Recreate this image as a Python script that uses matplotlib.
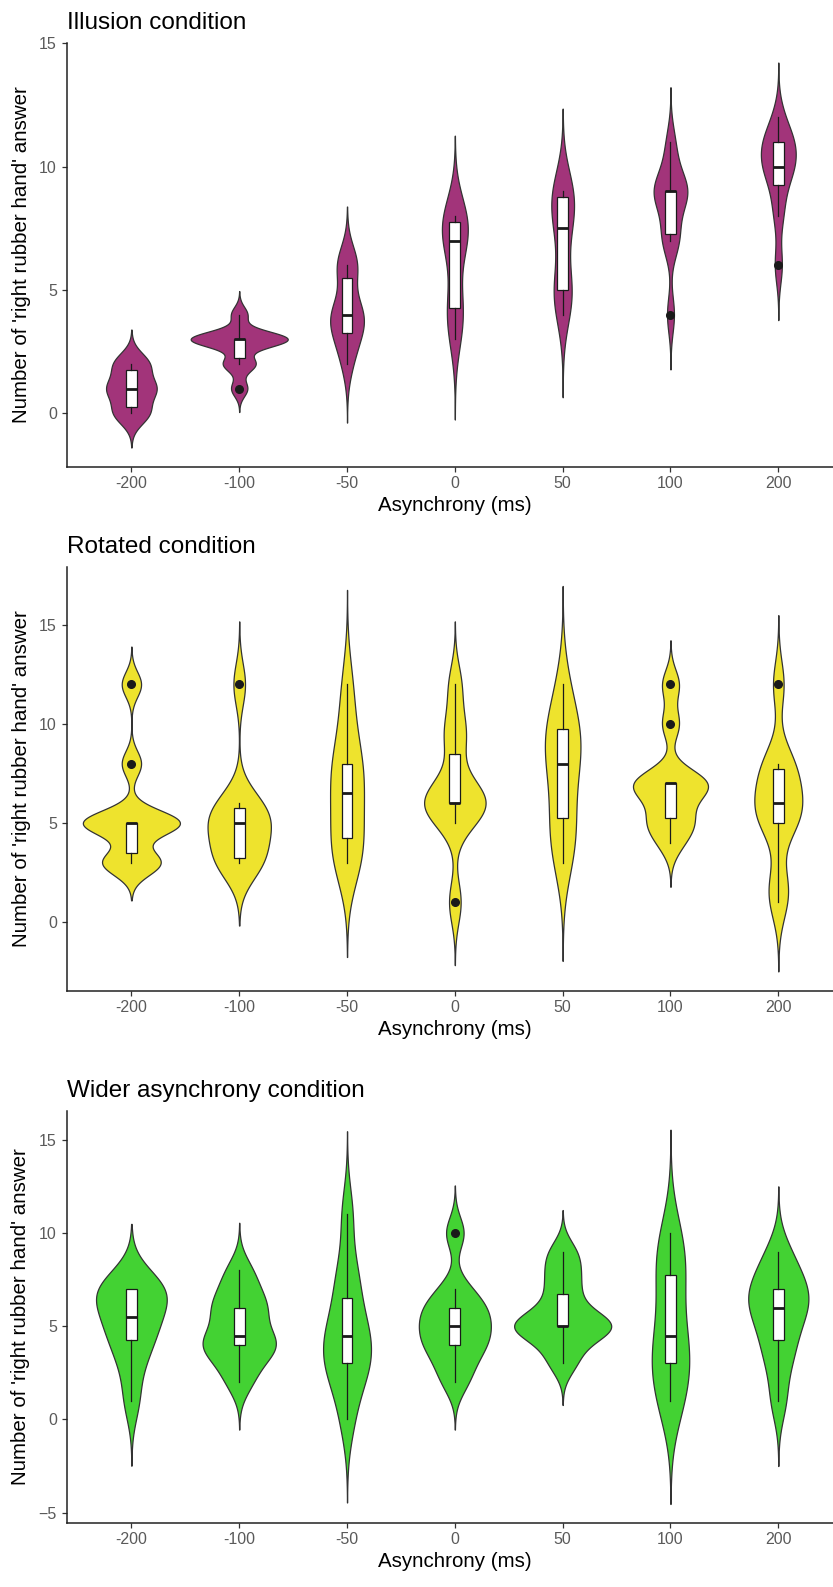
import numpy as np
import matplotlib
matplotlib.use('Agg')
import matplotlib.pyplot as plt
from matplotlib.ticker import MultipleLocator

plt.rcParams['font.family'] = ['Liberation Sans', 'DejaVu Sans']

asynchrony = ['-200', '-100', '-50', '0', '50', '100', '200']

illusion_data = [
	[0, 0, 0, 1, 1, 1, 1, 2, 2, 2],
	[1, 2, 2, 3, 3, 3, 3, 3, 3, 4],
	[2, 3, 3, 4, 4, 4, 4, 6, 6, 6],
	[3, 4, 4, 5, 7, 7, 7, 8, 8, 8],
	[4, 5, 5, 5, 7, 8, 8, 9, 9, 9],
	[4, 7, 7, 8, 9, 9, 9, 9, 10, 11],
	[6, 8, 9, 10, 10, 10, 11, 11, 11, 12],
]
rotated_data = [
	[3, 3, 3, 5, 5, 5, 5, 5, 8, 12],
	[3, 3, 3, 4, 5, 5, 5, 6, 6, 12],
	[3, 3, 4, 5, 6, 7, 8, 8, 10, 12],
	[1, 5, 6, 6, 6, 6, 7, 9, 10, 12],
	[3, 4, 5, 6, 8, 8, 9, 10, 10, 12],
	[4, 5, 5, 6, 7, 7, 7, 7, 10, 12],
	[1, 2, 5, 5, 6, 6, 7, 8, 8, 12],
]
wider_data = [
	[1, 3, 4, 5, 5, 6, 7, 7, 7, 7],
	[2, 3, 4, 4, 4, 5, 6, 6, 7, 8],
	[0, 2, 3, 3, 4, 5, 5, 7, 8, 11],
	[2, 3, 4, 4, 5, 5, 6, 6, 7, 10],
	[3, 4, 5, 5, 5, 5, 6, 7, 8, 9],
	[1, 1, 3, 3, 4, 5, 7, 8, 9, 10],
	[1, 3, 4, 5, 6, 6, 7, 7, 8, 9],
]

titles = ['Illusion condition', 'Rotated condition', 'Wider asynchrony condition']
fill_colors = ['#A2347A', '#EEE32D', '#43D233']

# Axes rectangles in figure fraction [left, bottom, width, height].
W, H = 833.0, 1587.0
panel_px = [(43.3, 466.7), (566.7, 990.7), (1111.0, 1522.7)]
left_px, right_px = 66.7, 843.0

def nrd0(x):
	# R's default bandwidth for density().
	x = np.asarray(x, dtype=float)
	sd = np.std(x, ddof=1)
	iqr = np.percentile(x, 75) - np.percentile(x, 25)
	lo = min(sd, iqr / 1.34)
	if lo <= 0:
		lo = sd if sd > 0 else 1.0
	return 0.9 * lo * len(x) ** -0.2

def violin_density(x, cut=3, n=512):
	x = np.asarray(x, dtype=float)
	bw = nrd0(x)
	grid = np.linspace(x.min() - cut * bw, x.max() + cut * bw, n)
	z = (grid[:, None] - x[None, :]) / bw
	dens = np.exp(-0.5 * z ** 2).sum(axis=1) / (len(x) * bw * np.sqrt(2 * np.pi))
	return grid, dens

def draw_panel(ax, groups, color, title):
	positions = np.arange(1, len(groups) + 1)
	curves = [violin_density(g) for g in groups]
	dmax = max(d.max() for _, d in curves)

	for pos, (grid, dens) in zip(positions, curves):
		hw = 0.45 * dens / dmax
		ax.fill_betweenx(grid, pos - hw, pos + hw, facecolor=color, edgecolor='#333333', linewidth=0.9, zorder=1)

	ax.boxplot(groups, positions=positions, widths=0.1, whis=1.5, patch_artist=True,
		boxprops=dict(facecolor='white', edgecolor='#1a1a1a', linewidth=0.9),
		whiskerprops=dict(color='#1a1a1a', linewidth=0.9),
		capprops=dict(linewidth=0),
		medianprops=dict(color='#1a1a1a', linewidth=2.0),
		flierprops=dict(marker='o', markerfacecolor='#1a1a1a', markeredgecolor='#1a1a1a', markersize=5.5),
		zorder=2)

	# ggplot-like 5% expansion of the violin extents.
	lo = min(g.min() for g, _ in curves)
	hi = max(g.max() for g, _ in curves)
	pad = 0.05 * (hi - lo)
	ax.set_ylim(lo - pad, hi + pad)
	ax.set_xlim(0.4, len(groups) + 0.6)

	ax.set_xticks(positions)
	ax.set_xticklabels(asynchrony)
	ax.yaxis.set_major_locator(MultipleLocator(5))
	ax.tick_params(axis='both', colors='#333333', labelcolor='#5a5a5a', labelsize=11.5, length=3.5, width=0.9)
	for side in ['top', 'right']:
		ax.spines[side].set_visible(False)
	for side in ['left', 'bottom']:
		ax.spines[side].set_linewidth(1.1)
		ax.spines[side].set_color('#222222')

	ax.set_xlabel('Asynchrony (ms)', fontsize=14.8, labelpad=3)
	ax.set_ylabel("Number of 'right rubber hand' answer", fontsize=14.8, labelpad=6)
	ax.set_title(title, loc='left', fontsize=17.5, pad=10)

fig = plt.figure(figsize=(W / 100, H / 100), dpi=100)
for (top, bottom), groups, color, title in zip(panel_px, [illusion_data, rotated_data, wider_data], fill_colors, titles):
	ax = fig.add_axes([left_px / W, 1 - bottom / H, (right_px - left_px) / W, (bottom - top) / H])
	draw_panel(ax, groups, color, title)

fig.savefig('out.png', dpi=100, facecolor='white')
